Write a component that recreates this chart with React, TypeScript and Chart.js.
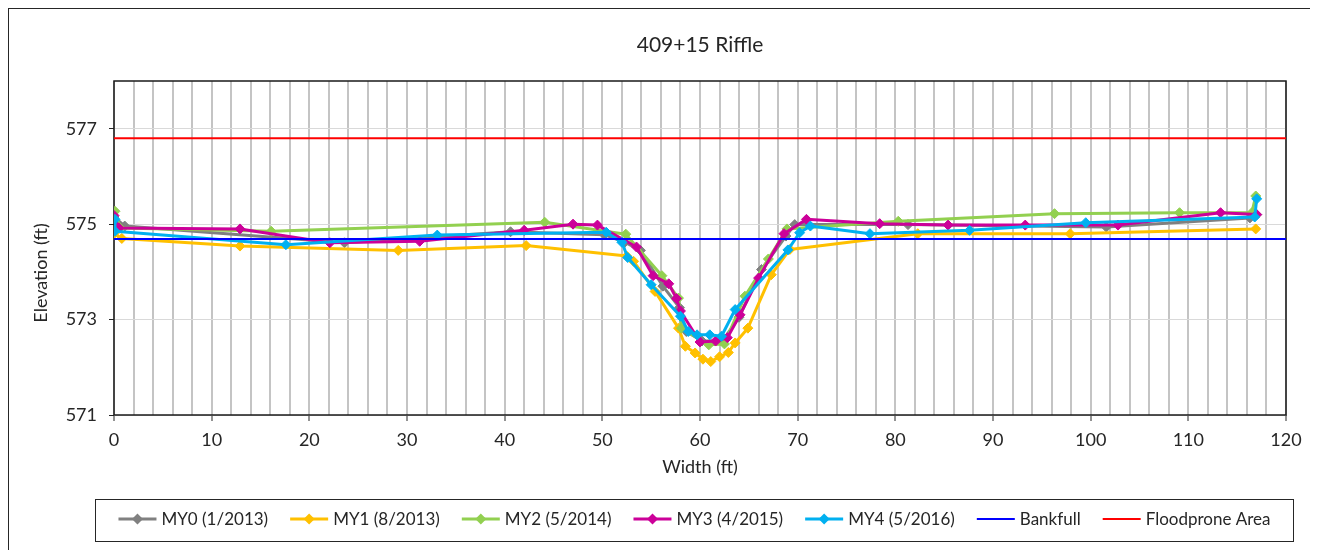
import React, { useEffect, useRef } from 'react';
import { Chart, registerables } from 'chart.js';

Chart.register(...registerables);

const FONT = 'Lato, "Liberation Sans", sans-serif';
const TEXT_COLOR = '#262626';

const TITLE = '409+15 Riffle';
const X_TITLE = 'Width (ft)';
const Y_TITLE = 'Elevation (ft)';

const X_MIN = 0;
const X_MAX = 120;
const X_GRID_STEP = 2;
const X_LABEL_STEP = 10;
const Y_MIN = 571;
const Y_MAX = 578;
const Y_TICKS = [571, 573, 575, 577];

const SERIES_LABELS = ['MY0 (1/2013)', 'MY1 (8/2013)', 'MY2 (5/2014)', 'MY3 (4/2015)', 'MY4 (5/2016)', 'Bankfull', 'Floodprone Area'];
const SERIES_COLORS = ['#808080', '#FFC000', '#92D050', '#CC0099', '#00B0F0', '#0000FF', '#FF0000'];

const MY0_X = [0, 1.1, 23.6, 40.6, 50.2, 52.3, 53.9, 56.2, 57.9, 58.6, 60.2, 62.3, 64.0, 66.3, 68.8, 69.7, 81.3, 101.6, 116.3, 117.0];
const MY0_Y = [575.15, 574.96, 574.61, 574.84, 574.78, 574.62, 574.45, 573.70, 573.25, 572.75, 572.55, 572.55, 573.05, 574.05, 574.75, 574.99, 574.99, 574.94, 575.13, 575.20];

const MY1_X = [0.0, 0.8, 12.9, 29.1, 42.2, 52.5, 53.2, 55.4, 57.8, 58.5, 59.5, 60.3, 61.1, 62.0, 62.9, 63.6, 64.9, 67.3, 69.2, 82.3, 97.9, 116.9];
const MY1_Y = [574.80, 574.70, 574.54, 574.45, 574.55, 574.33, 574.22, 573.59, 572.82, 572.44, 572.30, 572.17, 572.12, 572.22, 572.31, 572.51, 572.82, 573.94, 574.47, 574.80, 574.80, 574.90];

const MY2_X = [0.1, 0.6, 16.1, 44.1, 52.4, 56.1, 57.8, 58.1, 60.9, 62.5, 64.6, 67.0, 68.9, 80.3, 96.3, 109.1, 116.5, 116.9];
const MY2_Y = [575.27, 574.92, 574.85, 575.04, 574.79, 573.92, 573.45, 572.82, 572.47, 572.49, 573.49, 574.27, 574.90, 575.06, 575.22, 575.24, 575.24, 575.59];

const MY3_X = [0.0, 0.5, 12.9, 22.1, 31.3, 42.0, 47.0, 49.5, 53.5, 55.2, 56.8, 57.6, 58.0, 60.0, 61.6, 62.8, 64.1, 66.0, 68.6, 70.9, 78.4, 85.4, 93.3, 102.8, 113.3, 117.0];
const MY3_Y = [575.18, 574.92, 574.90, 574.61, 574.64, 574.87, 575.00, 574.98, 574.52, 573.92, 573.75, 573.44, 573.18, 572.53, 572.55, 572.62, 573.10, 573.87, 574.80, 575.10, 575.01, 574.98, 574.98, 574.98, 575.24, 575.20];

const MY4_X = [0.1, 0.1, 17.6, 33.1, 50.4, 52.0, 52.6, 55.0, 58.0, 58.8, 59.7, 61.0, 62.2, 63.6, 69.0, 70.2, 71.3, 77.4, 87.6, 99.5, 116.8, 117.0];
const MY4_Y = [575.10, 574.85, 574.57, 574.77, 574.83, 574.62, 574.30, 573.73, 573.07, 572.75, 572.68, 572.68, 572.65, 573.21, 574.46, 574.82, 574.96, 574.80, 574.87, 575.03, 575.15, 575.53];

const BANKFULL_X = [0, 120];
const BANKFULL_Y = [574.69, 574.69];
const FLOODPRONE_X = [0, 120];
const FLOODPRONE_Y = [576.80, 576.80];

const SERIES_X = [MY0_X, MY1_X, MY2_X, MY3_X, MY4_X, BANKFULL_X, FLOODPRONE_X];
const SERIES_Y = [MY0_Y, MY1_Y, MY2_Y, MY3_Y, MY4_Y, BANKFULL_Y, FLOODPRONE_Y];
const SERIES_MARKERS = [true, true, true, true, true, false, false];

function drawDiamond(ctx: CanvasRenderingContext2D, x: number, y: number, r: number) {
  ctx.beginPath();
  ctx.moveTo(x, y - r);
  ctx.lineTo(x + r, y);
  ctx.lineTo(x, y + r);
  ctx.lineTo(x - r, y);
  ctx.closePath();
  ctx.fill();
}

const decorPlugin = {
  id: 'decor',
  beforeDatasetsDraw(chart: any) {
    const { ctx, chartArea: a } = chart;
    ctx.save();
    ctx.strokeStyle = '#1a1a1a';
    ctx.lineWidth = 1.5;
    ctx.strokeRect(a.left, a.top, a.right - a.left, a.bottom - a.top);
    ctx.restore();
  },
  afterDraw(chart: any) {
    const { ctx, chartArea: a } = chart;
    ctx.save();
    // title
    ctx.fillStyle = TEXT_COLOR;
    ctx.font = `21px ${FONT}`;
    ctx.textAlign = 'center';
    ctx.textBaseline = 'middle';
    ctx.fillText(TITLE, (a.left + a.right) / 2, 36);
    // y title
    ctx.save();
    ctx.font = `18px ${FONT}`;
    ctx.translate(32, 264);
    ctx.rotate(-Math.PI / 2);
    ctx.fillText(Y_TITLE, 0, 0);
    ctx.restore();
    // legend
    const boxL = 86.5, boxR = 1284.5, boxT = 490.5, boxB = 532.5;
    ctx.strokeStyle = '#262626';
    ctx.lineWidth = 1;
    ctx.strokeRect(boxL, boxT, boxR - boxL, boxB - boxT);
    ctx.font = `17px ${FONT}`;
    const lineW = 38, gapT = 5, gapI = 22;
    const widths = SERIES_LABELS.map((t) => ctx.measureText(t).width);
    const total = widths.reduce((s, w) => s + lineW + gapT + w, 0) + gapI * (SERIES_LABELS.length - 1);
    let x = (boxL + boxR) / 2 - total / 2;
    const cy = 510;
    ctx.textAlign = 'left';
    SERIES_LABELS.forEach((label, i) => {
      const color = SERIES_COLORS[i];
      ctx.strokeStyle = color;
      ctx.fillStyle = color;
      ctx.lineWidth = SERIES_MARKERS[i] ? 3 : 2;
      ctx.beginPath();
      ctx.moveTo(x, cy);
      ctx.lineTo(x + lineW, cy);
      ctx.stroke();
      if (SERIES_MARKERS[i]) drawDiamond(ctx, x + lineW / 2, cy, 5.5);
      ctx.fillStyle = TEXT_COLOR;
      ctx.fillText(label, x + lineW + gapT, cy + 1);
      x += lineW + gapT + widths[i] + gapI;
    });
    ctx.restore();
  },
};

export default function App() {
  const ref = useRef<HTMLCanvasElement | null>(null);
  useEffect(() => {
    document.body.style.overflow = 'hidden';
    const canvas = ref.current;
    if (!canvas) return;
    const datasets = SERIES_LABELS.map((label, i) => {
      const color = SERIES_COLORS[i];
      const marker = SERIES_MARKERS[i];
      return {
        label,
        data: SERIES_X[i].map((x, j) => ({ x, y: SERIES_Y[i][j] })),
        borderColor: color,
        backgroundColor: color,
        borderWidth: marker ? 3 : 2,
        pointStyle: 'rectRot',
        pointRadius: marker ? 5 : 0,
        pointHoverRadius: marker ? 5 : 0,
        pointBorderWidth: 1,
        pointBackgroundColor: color,
        pointBorderColor: color,
        borderJoinStyle: 'round',
        tension: 0,
        fill: false,
        order: SERIES_LABELS.length - i,
      };
    });
    const chart = new Chart(canvas, {
      type: 'line',
      data: { datasets } as any,
      plugins: [decorPlugin],
      options: {
        animation: false,
        responsive: false,
        maintainAspectRatio: false,
        layout: { padding: { left: 0, right: 24, top: 72, bottom: 84 } },
        plugins: {
          legend: { display: false },
          title: { display: false },
          tooltip: { enabled: false },
        },
        scales: {
          x: {
            type: 'linear',
            min: X_MIN,
            max: X_MAX,
            ticks: {
              stepSize: X_GRID_STEP,
              autoSkip: false,
              maxRotation: 0,
              minRotation: 0,
              padding: 8,
              color: TEXT_COLOR,
              font: { family: FONT, size: 18 },
              callback: (v: any) => (Number(v) % X_LABEL_STEP === 0 ? String(v) : ''),
            },
            grid: {
              color: '#c4c4c4',
              lineWidth: 2,
              tickLength: 6,
              tickWidth: 1,
              tickColor: (c: any) => (c.tick && c.tick.value % X_LABEL_STEP === 0 ? '#262626' : 'rgba(0,0,0,0)'),
            },
            border: { display: false },
            title: {
              display: true,
              text: X_TITLE,
              color: TEXT_COLOR,
              font: { family: FONT, size: 18 },
              padding: { top: 0, bottom: 7 },
            },
            afterFit: (s: any) => {
              s.height = 70;
            },
          },
          y: {
            type: 'linear',
            min: Y_MIN,
            max: Y_MAX,
            afterBuildTicks: (s: any) => {
              s.ticks = Y_TICKS.map((v) => ({ value: v }));
            },
            ticks: {
              autoSkip: false,
              padding: 12,
              color: TEXT_COLOR,
              font: { family: FONT, size: 18 },
            },
            grid: {
              color: '#d9d9d9',
              lineWidth: 1,
              tickLength: 5,
              tickWidth: 1,
              tickColor: '#262626',
            },
            border: { display: false },
            afterFit: (s: any) => {
              s.width = 105;
            },
          },
        },
      } as any,
    });
    return () => chart.destroy();
  }, []);
  return (
    <div style={{ width: 1301, height: 560, border: '1px solid #262626', overflow: 'hidden' }}>
      <canvas ref={ref} width={1301} height={560} style={{ display: 'block', width: 1301, height: 560 }} />
    </div>
  );
}
